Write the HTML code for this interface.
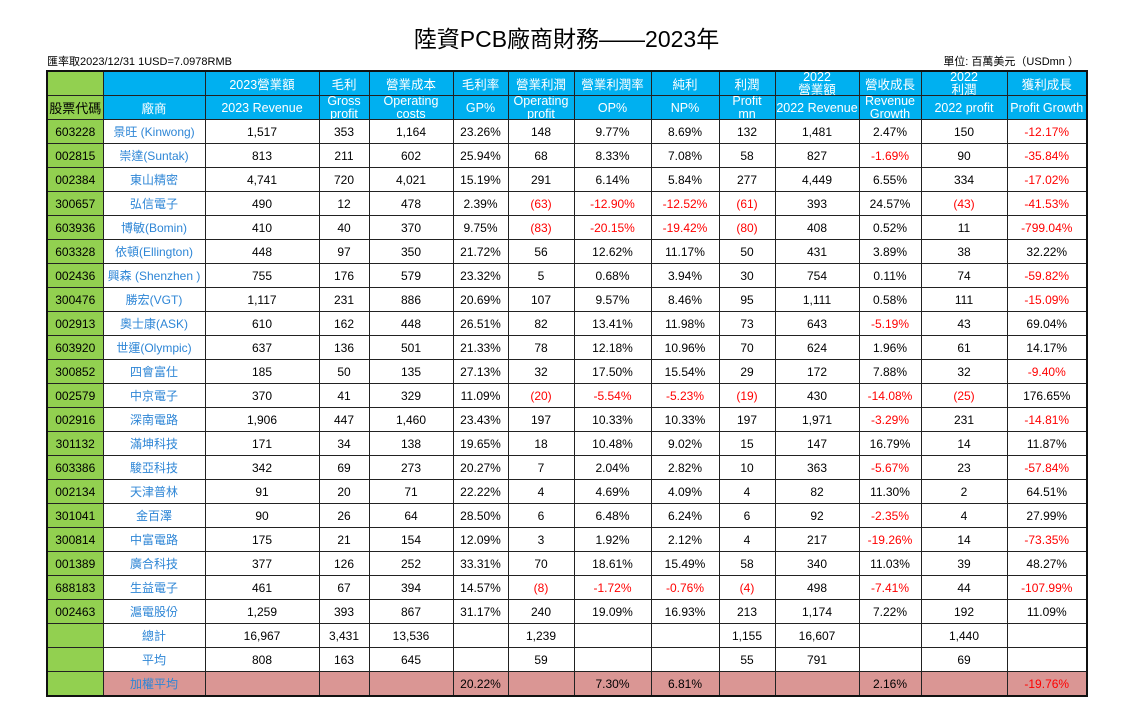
<!DOCTYPE html>
<html><head><meta charset="utf-8">
<style>
body{margin:0;width:1123px;height:716px;background:#fff;position:relative;overflow:hidden;font-family:"Liberation Sans","Noto Sans CJK TC",sans-serif;}
#title{position:absolute;left:0;width:1133px;top:20px;text-align:center;font-size:23px;color:#000;}
#note{position:absolute;left:47px;top:53px;font-size:11px;}
#unit{position:absolute;right:44px;top:53px;font-size:11px;}
table{position:absolute;left:46px;top:70px;border-collapse:collapse;table-layout:fixed;border:2px solid #111;}
td{border:1px solid #222;text-align:center;font-size:12px;padding:0;height:23px;white-space:nowrap;overflow:hidden;}
tr.h td{background:#00b0f0;color:#fff;font-size:12.5px;}
td.g{background:#92d050;color:#000;}
td.n{color:#2e86d6;}
td.r{color:#f00;}
tr.w td.x{background:#da9694;}
.clip{height:23px;overflow:hidden;line-height:13px;display:flex;flex-direction:column;justify-content:center;}
.clip span{display:block;}
</style></head><body>
<div id="title">陸資PCB廠商財務——2023年</div>
<div id="note">匯率取2023/12/31 1USD=7.0978RMB</div>
<div id="unit">單位:  百萬美元（USDmn ）</div>
<table id="tbl">
<colgroup><col style="width:56px"><col style="width:102px"><col style="width:114px"><col style="width:50px"><col style="width:84px"><col style="width:55px"><col style="width:66px"><col style="width:77px"><col style="width:68px"><col style="width:56px"><col style="width:84px"><col style="width:62px"><col style="width:86px"><col style="width:80px"></colgroup>
<tbody id="tb"></tbody></table>
<script>
const head1 = ["","","2023營業額","毛利","營業成本","毛利率","營業利潤","營業利潤率","純利","利潤","2022|營業額","營收成長","2022|利潤","獲利成長"];
const head2 = ["股票代碼","廠商","2023 Revenue","Gross|profit","Operating|costs","GP%","Operating|profit","OP%","NP%","Profit|mn","2022 Revenue","Revenue|Growth","2022 profit","Profit Growth"];
const codes = ["603228","002815","002384","300657","603936","603328","002436","300476","002913","603920","300852","002579","002916","301132","603386","002134","301041","300814","001389","688183","002463"];
const names = ["景旺 (Kinwong)","崇達(Suntak)","東山精密","弘信電子","博敏(Bomin)","依頓(Ellington)","興森 (Shenzhen )","勝宏(VGT)","奧士康(ASK)","世運(Olympic)","四會富仕","中京電子","深南電路","滿坤科技","駿亞科技","天津普林","金百澤","中富電路","廣合科技","生益電子","滬電股份"];
const rev23 = ["1,517","813","4,741","490","410","448","755","1,117","610","637","185","370","1,906","171","342","91","90","175","377","461","1,259"];
const gross = ["353","211","720","12","40","97","176","231","162","136","50","41","447","34","69","20","26","21","126","67","393"];
const opCost = ["1,164","602","4,021","478","370","350","579","886","448","501","135","329","1,460","138","273","71","64","154","252","394","867"];
const gpPct = ["23.26%","25.94%","15.19%","2.39%","9.75%","21.72%","23.32%","20.69%","26.51%","21.33%","27.13%","11.09%","23.43%","19.65%","20.27%","22.22%","28.50%","12.09%","33.31%","14.57%","31.17%"];
const opProfit = ["148","68","291","(63)","(83)","56","5","107","82","78","32","(20)","197","18","7","4","6","3","70","(8)","240"];
const opPct = ["9.77%","8.33%","6.14%","-12.90%","-20.15%","12.62%","0.68%","9.57%","13.41%","12.18%","17.50%","-5.54%","10.33%","10.48%","2.04%","4.69%","6.48%","1.92%","18.61%","-1.72%","19.09%"];
const npPct = ["8.69%","7.08%","5.84%","-12.52%","-19.42%","11.17%","3.94%","8.46%","11.98%","10.96%","15.54%","-5.23%","10.33%","9.02%","2.82%","4.09%","6.24%","2.12%","15.49%","-0.76%","16.93%"];
const profit = ["132","58","277","(61)","(80)","50","30","95","73","70","29","(19)","197","15","10","4","6","4","58","(4)","213"];
const rev22 = ["1,481","827","4,449","393","408","431","754","1,111","643","624","172","430","1,971","147","363","82","92","217","340","498","1,174"];
const revGrowth = ["2.47%","-1.69%","6.55%","24.57%","0.52%","3.89%","0.11%","0.58%","-5.19%","1.96%","7.88%","-14.08%","-3.29%","16.79%","-5.67%","11.30%","-2.35%","-19.26%","11.03%","-7.41%","7.22%"];
const profit22 = ["150","90","334","(43)","11","38","74","111","43","61","32","(25)","231","14","23","2","4","14","39","44","192"];
const profitGrowth = ["-12.17%","-35.84%","-17.02%","-41.53%","-799.04%","32.22%","-59.82%","-15.09%","69.04%","14.17%","-9.40%","176.65%","-14.81%","11.87%","-57.84%","64.51%","27.99%","-73.35%","48.27%","-107.99%","11.09%"];
const totalRow = ["","總計","16,967","3,431","13,536","","1,239","","","1,155","16,607","","1,440",""];
const avgRow = ["","平均","808","163","645","","59","","","55","791","","69",""];
const wavgRow = ["","加權平均","","","","20.22%","","7.30%","6.81%","","","2.16%","","-19.76%"];
const colNames = ["stock-code","company","revenue-2023","gross-profit","operating-costs","gp-pct","operating-profit","op-pct","np-pct","profit","revenue-2022","revenue-growth","profit-2022","profit-growth"];

const tb = document.getElementById('tb');
function cellText(td, t){
  if (t.indexOf('|') >= 0){
    const d = document.createElement('div'); d.className = 'clip';
    t.split('|').forEach(p => { const s = document.createElement('span'); s.textContent = p; d.appendChild(s); });
    td.appendChild(d);
  } else td.textContent = t;
}
function addRow(vals, cls, rowName){
  const tr = document.createElement('tr');
  
  
  if (cls) tr.className = cls;
  vals.forEach((v, i) => {
    const td = document.createElement('td');
    
    
    if (i === 0) td.classList.add('g');
    if (i === 1 && cls !== 'h') td.classList.add('n');
    if (cls === 'w' && i > 0) td.classList.add('x');
    if (cls !== 'h' && (v.startsWith('-') || v.startsWith('('))) td.classList.add('r');
    cellText(td, v);
    tr.appendChild(td);
  });
  tb.appendChild(tr);
}
addRow(head1, 'h', 'header-row-chinese');
addRow(head2, 'h', 'header-row-english');
for (let i = 0; i < codes.length; i++){
  addRow([codes[i], names[i], rev23[i], gross[i], opCost[i], gpPct[i], opProfit[i], opPct[i], npPct[i], profit[i], rev22[i], revGrowth[i], profit22[i], profitGrowth[i]], '', 'row-' + codes[i]);
}
addRow(totalRow, '', 'total-row');
addRow(avgRow, '', 'average-row');
addRow(wavgRow, 'w', 'weighted-average-row');
// header first column green
tb.rows[0].cells[0].style.background = '#92d050';
tb.rows[1].cells[0].style.background = '#92d050';
tb.rows[1].cells[0].style.color = '#000';
tb.rows[1].cells[0].style.fontSize = '13px';
</script>
</body></html>
